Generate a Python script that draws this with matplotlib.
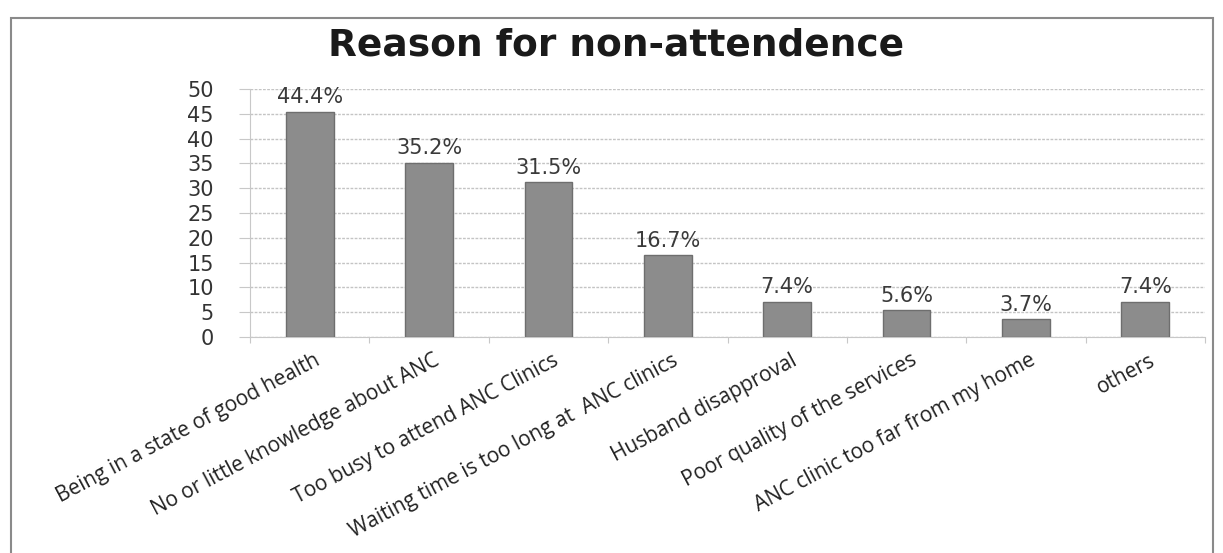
import matplotlib
matplotlib.use("Agg")
import matplotlib.pyplot as plt
from matplotlib.patches import Rectangle

categories = [
    "Being in a state of good health",
    "No or little knowledge about ANC",
    "Too busy to attend ANC Clinics",
    "Waiting time is too long at  ANC clinics",
    "Husband disapproval",
    "Poor quality of the services",
    "ANC clinic too far from my home",
    "others",
]
bar_heights = [45.4, 35.1, 31.2, 16.5, 7.1, 5.4, 3.6, 7.1]
value_labels = ["44.4%", "35.2%", "31.5%", "16.7%", "7.4%", "5.6%", "3.7%", "7.4%"]
yticks = [0, 5, 10, 15, 20, 25, 30, 35, 40, 45, 50]
title = "Reason for non-attendence"

W, H = 1223, 553
fig = plt.figure(figsize=(W / 100, H / 100), dpi=100)
fig.patch.set_facecolor("white")

# chart frame
fig.patches.append(Rectangle((11 / W, -0.05), (1213 - 11) / W, 1 - 18 / H + 0.05,
                             transform=fig.transFigure, fill=False,
                             edgecolor="#8a8a8a", linewidth=1.5))

ax = fig.add_axes([250 / W, 1 - 337 / H, (1205 - 250) / W, (337 - 89) / H])
x = list(range(len(categories)))
ax.bar(x, bar_heights, width=0.40, color="#8c8c8c", edgecolor="#6e6e6e",
       linewidth=1.0, zorder=3)

for xi, h, lab in zip(x, bar_heights, value_labels):
    ax.text(xi, h + 0.9, lab, ha="center", va="bottom", fontsize=15,
            color="#3a3a3a", family="DejaVu Sans", zorder=4)

ax.set_xlim(-0.5, len(categories) - 0.5)
ax.set_ylim(0, 50)
ax.set_yticks(yticks)
ax.set_yticklabels([str(v) for v in yticks], fontsize=15, color="#333333",
                   family="DejaVu Sans")
ax.yaxis.grid(True, color="#c4c4c4", linestyle=(0, (2, 1)), linewidth=1.0, zorder=0)
ax.set_axisbelow(True)

ax.set_xticks([i - 0.5 for i in range(len(categories) + 1)], minor=False)
ax.set_xticklabels([])
ax.tick_params(axis="x", length=4, color="#c8c8c8", direction="out")
ax.tick_params(axis="y", length=8, color="#c8c8c8", pad=18)

for i, c in enumerate(categories):
    ax.text(i + 0.03, -2.6, c, rotation=28, ha="right", va="top",
            rotation_mode="anchor", fontsize=15, family="Open Sans",
            color="#222222", transform=ax.transData, clip_on=False)

for s in ["top", "right"]:
    ax.spines[s].set_visible(False)
ax.spines["left"].set_color("#c8c8c8")
ax.spines["bottom"].set_color("#c8c8c8")

fig.text(616 / W, 1 - 46 / H, title, ha="center", va="center",
         fontsize=27, fontweight="bold", color="#1a1a1a", family="DejaVu Sans")

fig.savefig("out.png", dpi=100, facecolor="white")
